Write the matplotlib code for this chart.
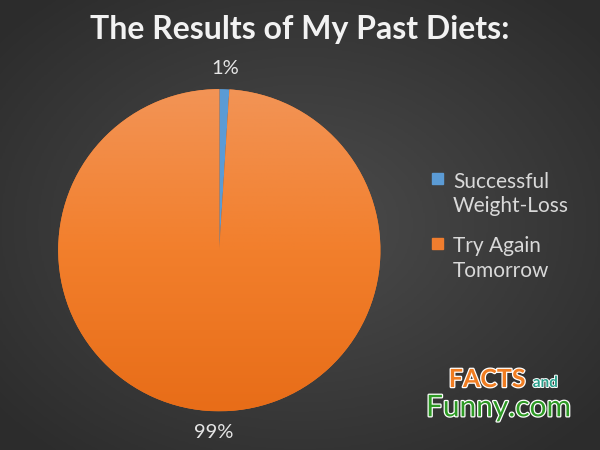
import numpy as np
import matplotlib.pyplot as plt
import matplotlib.patheffects as pe
from matplotlib.colors import LinearSegmentedColormap
from matplotlib.patches import Rectangle

plt.rcParams['font.family'] = ['Lato', 'DejaVu Sans']

labels = ["Successful\nWeight-Loss", "Try Again\nTomorrow"]
shares = [1, 99]
pct_labels = ["1%", "99%"]
colors = ["#5b9bd5", "#f07d2e"]

fig = plt.figure(figsize=(6, 4.5), dpi=100)

# radial background, lighter in the middle
bg = fig.add_axes([0, 0, 1, 1])
yy, xx = np.mgrid[-1:1:300j, -1:1:400j]
rr = np.sqrt((xx * 0.9) ** 2 + (yy * 0.9) ** 2)
bg_cmap = LinearSegmentedColormap.from_list("bg", ["#4c4c4c", "#2c2c2c"])
bg.imshow(rr, cmap=bg_cmap, aspect="auto", extent=[0, 1, 0, 1], vmin=0, vmax=1.2)
bg.set_axis_off()

# pie axes: radius 1 spans the target circle, limits padded 20%
ax = fig.add_axes([0.097 - 0.537 * 0.1, 0.086 - 0.716 * 0.1, 0.537 * 1.2, 0.716 * 1.2])
wedges, _ = ax.pie(shares, colors=colors, startangle=90, counterclock=False,
                   wedgeprops=dict(linewidth=0))

# vertical gradient for the big slice
orange_cmap = LinearSegmentedColormap.from_list("or", ["#f29456", "#f27f2c", "#e86d18"])
grad = np.linspace(0, 1, 256).reshape(-1, 1)
im = ax.imshow(grad, cmap=orange_cmap, extent=[-1, 1, -1, 1], aspect="auto",
               origin="upper", zorder=wedges[1].get_zorder() + 0.1)
im.set_clip_path(wedges[1])

# percentage labels just outside the pie
angle = 90
for share, txt in zip(shares, pct_labels):
    mid = np.deg2rad(angle - share * 3.6 / 2)
    angle -= share * 3.6
    ax.text(1.13 * np.cos(mid), 1.13 * np.sin(mid), txt, ha="center", va="center",
            color="#e6e6e6", fontsize=14.5)
ax.set_xlim(-1.2, 1.2)
ax.set_ylim(-1.2, 1.2)
ax.set_aspect("equal")

fig.text(0.5, 0.935, "The Results of My Past Diets:", ha="center", va="center",
         color="#f2f2f2", fontsize=23, fontweight="bold")

# legend drawn by hand so the square sits on the first text line
for i, (lab, col) in enumerate(zip(labels, colors)):
    step = i * 0.1435
    fig.add_artist(Rectangle((0.72, 0.591 - step), 0.0183, 0.0244, color=col,
                             transform=fig.transFigure))
    fig.text(0.755, 0.569 - step, lab, ha="left", va="center", color="#d9d9d9",
             fontsize=15, linespacing=1.3)

# site watermark
fig.text(0.748, 0.14, "FACTS", color="#f07d22", fontsize=18, fontweight="bold",
         path_effects=[pe.withStroke(linewidth=1.8, foreground="white")])
fig.text(0.888, 0.14, "and", color="#2aa08c", fontsize=11, fontweight="bold",
         path_effects=[pe.withStroke(linewidth=1.4, foreground="white")])
fig.text(0.71, 0.075, "Funny.com", color="#2e9a25", fontsize=21.5,
         path_effects=[pe.withStroke(linewidth=1.8, foreground="white")])

fig.savefig("out.png", dpi=100)
